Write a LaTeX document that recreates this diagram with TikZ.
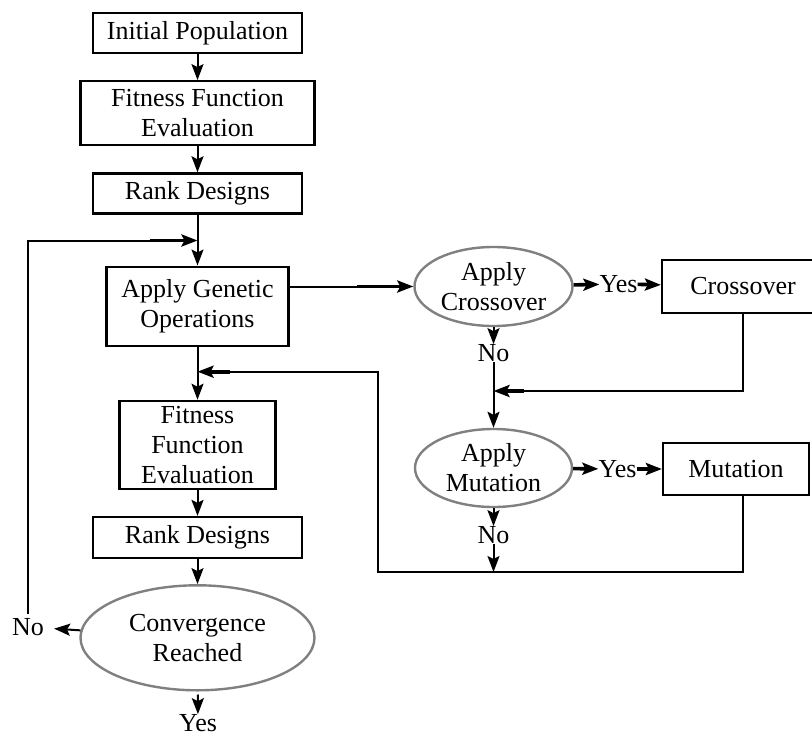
\documentclass[tikz,border=0pt]{standalone}
\usepackage{fontspec}
\setmainfont{Liberation Serif}
\usetikzlibrary{arrows.meta,positioning,shapes.geometric}

\tikzset{
  stepbox/.style={draw, line width=2.2pt, align=center, inner sep=1pt},
  decide/.style={ellipse, draw=black!50, line width=2.4pt, align=center, inner sep=0pt},
  answer/.style={inner sep=0pt},
  flow/.style={line width=2pt},
  heavy/.style={line width=3.6pt},
}

\begin{document}
\begin{tikzpicture}[x=1pt,y=1pt,>={Stealth[length=16pt,width=12pt,inset=3pt]},
                    font=\fontsize{26}{30}\selectfont]
    \useasboundingbox (0,0) rectangle (812,-736);

    % main column
    \node[stepbox, minimum width=209pt, minimum height=40pt] (init) at (197.5,-33) {Initial Population};
    \node[stepbox, minimum width=234pt, minimum height=64pt, below=26pt of init]  (fit1)  {Fitness Function\\Evaluation};
    \node[stepbox, minimum width=209pt, minimum height=40pt, below=26pt of fit1]  (rank1) {Rank Designs};
    \node[stepbox, minimum width=182pt, minimum height=79pt, below=51pt of rank1] (ago)   {Apply Genetic\\Operations};
    \node[stepbox, minimum width=156pt, minimum height=88pt, below=53pt of ago]   (fit2)  {Fitness\\Function\\Evaluation};
    \node[stepbox, minimum width=209pt, minimum height=41pt, below=26pt of fit2]  (rank2) {Rank Designs};
    \node[decide, minimum width=234pt, minimum height=105pt, below=25pt of rank2] (conv)  {Convergence\\Reached};

    % operators
    \node[decide, minimum width=158pt, minimum height=79pt] (cross) at (493.5,-286.5) {Apply\\Crossover};
    \node[stepbox, minimum width=162pt, minimum height=53pt] (crossbox) at (743,-286.5) {Crossover};
    \node[decide, minimum width=157pt, minimum height=78pt] (mut) at (493.5,-468) {Apply\\Mutation};
    \node[stepbox, minimum width=146pt, minimum height=52pt] (mutbox) at (736,-469) {Mutation};

    % answers
    \node[answer] (yes1) at (618.5,-284) {Yes};
    \node[answer] (no1)  at (493.5,-353) {No};
    \node[answer] (yes2) at (617.5,-469) {Yes};
    \node[answer] (no2)  at (493.5,-535) {No};
    \node[answer] (no3)  at (28,-627)    {No};
    \node[answer] (yes3) at (198,-723)   {Yes};

    \coordinate (merge1) at ([yshift=-26pt]rank1.south);
    \coordinate (merge2) at (493.5,-391);
    \coordinate (merge3) at (493.5,-572);
    \coordinate (merge4) at ([yshift=28pt]fit2.north);
    \coordinate (bend)   at (378,-572);

    \draw[flow,->] (init) -- (fit1);
    \draw[flow,->] (fit1) -- (rank1);
    \draw[flow,->] (rank1) -- (ago);
    \draw[flow,->] (ago) -- (fit2);
    \draw[flow,->] (fit2) -- (rank2);
    \draw[flow,->] (rank2) -- (conv);
    \draw[flow,->, shorten <=3pt] (conv) -- (yes3);
    \draw[flow,->, shorten >=10pt] (conv) -- (no3);

    % loop back
    \draw[flow] ([yshift=4pt]no3.north) |- ([xshift=-48pt]merge1);
    \draw[heavy,->] ([xshift=-48pt]merge1) -- (merge1);

    \draw[flow] (ago.east |- cross.west) -- ([xshift=-56pt]cross.west);
    \draw[heavy,->] ([xshift=-56pt]cross.west) -- (cross.west);

    \draw[heavy,->] (cross) -- (yes1);
    \draw[heavy,->] (yes1) -- (crossbox);
    \draw[flow,->] (cross) -- (no1);
    \draw[flow,->] (no1) -- (mut);
    \draw[flow] (crossbox.south) |- ([xshift=30pt]merge2);
    \draw[heavy,->] ([xshift=30pt]merge2) -- (merge2);

    \draw[heavy,->] (mut) -- (yes2);
    \draw[heavy,->] (yes2) -- (mutbox);
    \draw[flow,->] (mut) -- (no2);
    \draw[flow,->] (no2) -- (merge3);
    \draw[flow] (crossbox.south |- mutbox.south) |- (bend) |- ([xshift=32pt]merge4);
    \draw[heavy,->] ([xshift=32pt]merge4) -- (merge4);
\end{tikzpicture}
\end{document}
